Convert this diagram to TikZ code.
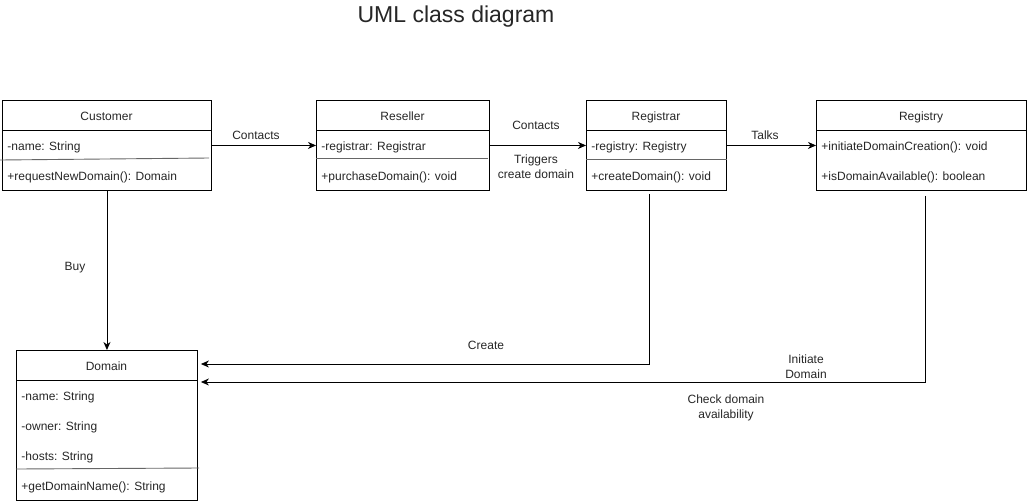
\documentclass[tikz,border=0pt]{standalone}
\usepackage{fontspec}
\setmainfont{Liberation Sans}
\usetikzlibrary{arrows.meta}

\begin{document}
\begin{tikzpicture}
      [x=1pt,y=-1pt,line width=0.9pt,
       every node/.style={font=\fontsize{12}{15}\selectfont,inner sep=0pt,text=black!85},
       classbox/.style={draw,rectangle,anchor=north west,minimum height=90pt},
       member/.style={anchor=mid west},
       lbl/.style={anchor=mid,align=center},
       link/.style={-{Stealth[length=8pt,width=7pt,inset=2.5pt]}}]
      \useasboundingbox (0,0) rectangle (1028,501);

      \node (title) at (456,17) {\fontsize{23}{28}\selectfont UML class diagram};

      \node[classbox,minimum width=209pt] (cust) at (2,100) {};
      \node[classbox,minimum width=173pt] (resel) at (316,100) {};
      \node[classbox,minimum width=140pt] (regr) at (586,100) {};
      \node[classbox,minimum width=210pt] (regy) at (816,100) {};
      \node[classbox,minimum width=181pt,minimum height=150pt] (dom) at (16,350) {};

      \foreach \c in {cust,resel,regr,regy,dom}
      \draw ([yshift=-30pt]\c.north west) -- ([yshift=-30pt]\c.north east);

      \node[lbl] (custname) at (106.5,117.5) {Customer};
      \node[lbl] (reselname) at (402.5,117.5) {Reseller};
      \node[lbl] (regrname) at (656,117.5) {Registrar};
      \node[lbl] (regyname) at (921,117.5) {Registry};
      \node[lbl] (domname) at (106.5,367.5) {Domain};

      \node[member] (cust1) at (7,147.5) {-name: String};
      \node[member] (cust2) at (7,177.5) {+requestNewDomain(): Domain};
      \node[member] (resel1) at (321,147.5) {-registrar: Registrar};
      \node[member] (resel2) at (321,177.5) {+purchaseDomain(): void};
      \node[member] (regr1) at (591,147.5) {-registry: Registry};
      \node[member] (regr2) at (591,177.5) {+createDomain(): void};
      \node[member] (regy1) at (821,147.5) {+initiateDomainCreation(): void};
      \node[member] (regy2) at (821,177.5) {+isDomainAvailable(): boolean};
      \node[member] (dom1) at (21,397.5) {-name: String};
      \node[member] (dom2) at (21,427.5) {-owner: String};
      \node[member] (dom3) at (21,457.5) {-hosts: String};
      \node[member] (dom4) at (21,487.5) {+getDomainName(): String};

      % dividers between attributes and operations
      \draw[black!60] (0,160) -- (209,158);
      \draw[black!60] (316,158) -- (488,158);
      \draw[black!60] (586,159) -- (727,159);
      \draw[black!60] (16,469) -- (199,468);

      \foreach \from/\to in {cust/resel, resel/regr, regr/regy, cust/dom}
      \draw [link] (\from) -- (\to);

      \draw [link] ([xshift=-7pt,yshift=-3pt]regr.south) |- ([xshift=3pt,yshift=-14pt]dom.north east);
      \draw [link] ([xshift=4pt,yshift=-5pt]regy.south) |- ([xshift=3pt,yshift=-32pt]dom.north east);

      \node[lbl] (l1) at (256,136.5) {Contacts};
      \node[lbl] (l2) at (536,126.5) {Contacts};
      \node[lbl] (l3) at (536,175.5) {Triggers\\create domain};
      \node[lbl] (l4) at (765,136.5) {Talks};
      \node[lbl] (l5) at (75,267.5) {Buy};
      \node[lbl] (l6) at (486,346.5) {Create};
      \node[lbl] (l7) at (806,375.5) {Initiate\\Domain};
      \node[lbl] (l8) at (726,415.5) {Check domain\\availability};
    \end{tikzpicture}
\end{document}
